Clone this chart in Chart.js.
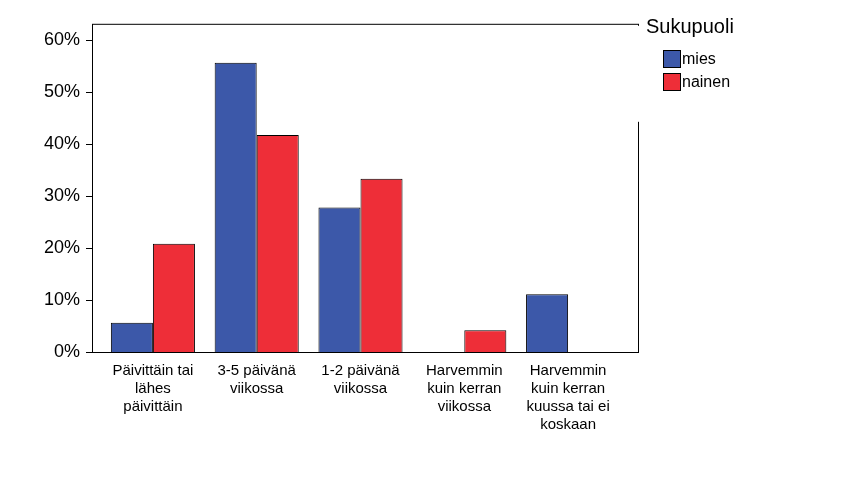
<!DOCTYPE html>
<html>
<head>
<meta charset="utf-8">
<script src="https://cdn.jsdelivr.net/npm/chart.js@4"></script>
<style>
  body { margin: 0; background: #fff; }
  #wrap { width: 853px; height: 486px; }
</style>
</head>
<body>
<div id="wrap"><canvas id="chart"></canvas></div>
<script>
const categories = [
    ['Päivittäin tai', 'lähes', 'päivittäin'],
    ['3-5 päivänä', 'viikossa'],
    ['1-2 päivänä', 'viikossa'],
    ['Harvemmin', 'kuin kerran', 'viikossa'],
    ['Harvemmin', 'kuin kerran', 'kuussa tai ei', 'koskaan']
];
const mies = [5.6, 55.6, 27.8, 0, 11.1];
const nainen = [20.8, 41.7, 33.3, 4.2, 0];
const yTicks = [0, 10, 20, 30, 40, 50, 60];
const legendTitle = 'Sukupuoli';

// kehys (hieman piirtoaluetta leveämpi), y-akselin viivat ja oma selite
const kehys = {
    id: 'kehys',
    afterDraw(chart) {
        const { ctx, chartArea: a } = chart;
        const left = 92, right = 638;
        ctx.save();
        ctx.strokeStyle = '#000';
        ctx.lineWidth = 1;
        ctx.strokeRect(left + 0.5, a.top + 0.5, right - left, a.bottom - a.top);
        const y = chart.scales.y;
        yTicks.forEach(v => {
            const py = Math.round(y.getPixelForValue(v)) + 0.5;
            ctx.beginPath();
            ctx.moveTo(left - 6, py);
            ctx.lineTo(left, py);
            ctx.stroke();
        });
        ctx.fillStyle = '#fff';
        ctx.fillRect(right - 1, a.top + 2, 220, 96);
        ctx.fillStyle = '#000';
        ctx.font = '20px "Liberation Sans", Arial';
        ctx.textBaseline = 'middle';
        ctx.fillText(legendTitle, 646, 27);
        ctx.font = '16px "Liberation Sans", Arial';
        chart.data.datasets.forEach((ds, i) => {
            const ly = 50 + i * 23;
            ctx.fillStyle = ds.backgroundColor;
            ctx.fillRect(663, ly, 17, 17);
            ctx.strokeRect(663.5, ly + 0.5, 17, 17);
            ctx.fillStyle = '#000';
            ctx.fillText(ds.label, 682, ly + 10);
        });
        ctx.restore();
    }
};

new Chart(document.getElementById('chart'), {
    type: 'bar',
    data: {
        labels: categories,
        datasets: [
            { label: 'mies', data: mies, backgroundColor: '#3c58a9', borderColor: '#000', borderWidth: 1 },
            { label: 'nainen', data: nainen, backgroundColor: '#ee2e38', borderColor: '#000', borderWidth: 1 }
        ]
    },
    options: {
        responsive: true,
        maintainAspectRatio: false,
        animation: false,
        layout: { padding: { top: 5, right: 233, left: 0, bottom: 0 } },
        plugins: { legend: { display: false }, tooltip: { enabled: false } },
        datasets: { bar: { categoryPercentage: 0.81, barPercentage: 1 } },
        scales: {
            x: {
                grid: { display: false },
                border: { display: false },
                ticks: { color: '#000', font: { size: 15, family: '"Liberation Sans", Arial' }, maxRotation: 0, autoSkip: false, padding: 2 },
                afterFit(s) { s.height = 134; }
            },
            y: {
                min: 0, max: 63.1,
                grid: { display: false },
                border: { display: false },
                afterBuildTicks(s) { s.ticks = yTicks.map(v => ({ value: v })); },
                ticks: { color: '#000', font: { size: 18, family: '"Liberation Sans", Arial' }, callback: v => v + '%', padding: 13 },
                afterFit(s) { s.width = 101; }
            }
        }
    },
    plugins: [kehys]
});
</script>
</body>
</html>
